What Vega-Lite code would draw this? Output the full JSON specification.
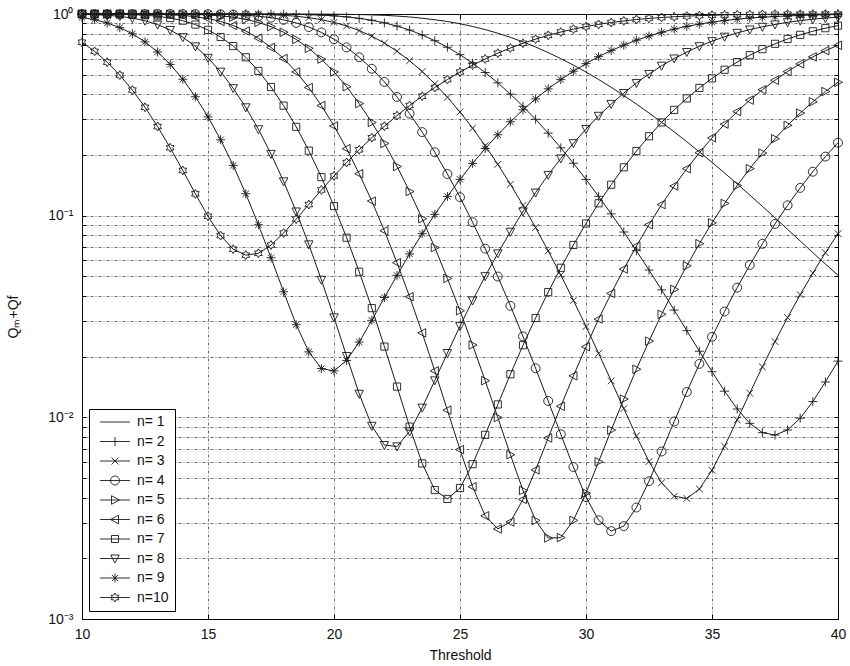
{
"$schema":"https://vega.github.io/schema/vega-lite/v6.json",
"width":756,"height":605,
"autosize":{"type":"none"},
"padding":{"left":82,"top":14,"right":12,"bottom":47},
"background":"white",
"config":{
 "view":{"stroke":"#000","strokeWidth":1},
 "axis":{"labelFont":"Liberation Sans","titleFont":"Liberation Sans","labelFontSize":14,"titleFontSize":14,"titleFontWeight":"normal","labelColor":"#111","titleColor":"#111","gridColor":"#222","gridDash":[3,2,1,2],"gridOpacity":0.9,"gridWidth":0.75,"tickColor":"#000","domain":false,"labelFlush":false,"labelOverlap":false}
},
"data":{"values":[
{"t":10,"n":1,"v":1},{"t":10.5,"n":1,"v":1},{"t":11,"n":1,"v":1},{"t":11.5,"n":1,"v":1},{"t":12,"n":1,"v":1},{"t":12.5,"n":1,"v":1},{"t":13,"n":1,"v":1},{"t":13.5,"n":1,"v":1},{"t":14,"n":1,"v":1},{"t":14.5,"n":1,"v":1},{"t":15,"n":1,"v":1},{"t":15.5,"n":1,"v":1},{"t":16,"n":1,"v":1},{"t":16.5,"n":1,"v":1},{"t":17,"n":1,"v":1},{"t":17.5,"n":1,"v":0.99994},{"t":18,"n":1,"v":0.99986},{"t":18.5,"n":1,"v":0.99969},{"t":19,"n":1,"v":0.99938},{"t":19.5,"n":1,"v":0.9988},{"t":20,"n":1,"v":0.99781},{"t":20.5,"n":1,"v":0.99616},{"t":21,"n":1,"v":0.99366},{"t":21.5,"n":1,"v":0.98986},{"t":22,"n":1,"v":0.9846},{"t":22.5,"n":1,"v":0.97664},{"t":23,"n":1,"v":0.967},{"t":23.5,"n":1,"v":0.95288},{"t":24,"n":1,"v":0.93633},{"t":24.5,"n":1,"v":0.91793},{"t":25,"n":1,"v":0.89452},{"t":25.5,"n":1,"v":0.86743},{"t":26,"n":1,"v":0.83684},{"t":26.5,"n":1,"v":0.80297},{"t":27,"n":1,"v":0.76622},{"t":27.5,"n":1,"v":0.72709},{"t":28,"n":1,"v":0.68607},{"t":28.5,"n":1,"v":0.64382},{"t":29,"n":1,"v":0.60088},{"t":29.5,"n":1,"v":0.55785},{"t":30,"n":1,"v":0.51525},{"t":30.5,"n":1,"v":0.47361},{"t":31,"n":1,"v":0.43317},{"t":31.5,"n":1,"v":0.39447},{"t":32,"n":1,"v":0.35767},{"t":32.5,"n":1,"v":0.32295},{"t":33,"n":1,"v":0.29052},{"t":33.5,"n":1,"v":0.26038},{"t":34,"n":1,"v":0.23256},{"t":34.5,"n":1,"v":0.20713},{"t":35,"n":1,"v":0.1838},{"t":35.5,"n":1,"v":0.16274},{"t":36,"n":1,"v":0.14365},{"t":36.5,"n":1,"v":0.12653},{"t":37,"n":1,"v":0.11123},{"t":37.5,"n":1,"v":0.097591},{"t":38,"n":1,"v":0.085524},{"t":38.5,"n":1,"v":0.074891},{"t":39,"n":1,"v":0.0656},{"t":39.5,"n":1,"v":0.057556},{"t":40,"n":1,"v":0.050681},
{"t":10,"n":2,"v":1},{"t":10.5,"n":2,"v":1},{"t":11,"n":2,"v":1},{"t":11.5,"n":2,"v":1},{"t":12,"n":2,"v":1},{"t":12.5,"n":2,"v":1},{"t":13,"n":2,"v":1},{"t":13.5,"n":2,"v":1},{"t":14,"n":2,"v":1},{"t":14.5,"n":2,"v":1},{"t":15,"n":2,"v":1},{"t":15.5,"n":2,"v":1},{"t":16,"n":2,"v":0.9999},{"t":16.5,"n":2,"v":0.9998},{"t":17,"n":2,"v":0.9995},{"t":17.5,"n":2,"v":0.9989},{"t":18,"n":2,"v":0.9978},{"t":18.5,"n":2,"v":0.9959},{"t":19,"n":2,"v":0.9927},{"t":19.5,"n":2,"v":0.9874},{"t":20,"n":2,"v":0.9791},{"t":20.5,"n":2,"v":0.9678},{"t":21,"n":2,"v":0.9516},{"t":21.5,"n":2,"v":0.9308},{"t":22,"n":2,"v":0.9043},{"t":22.5,"n":2,"v":0.871},{"t":23,"n":2,"v":0.8326},{"t":23.5,"n":2,"v":0.787},{"t":24,"n":2,"v":0.7373},{"t":24.5,"n":2,"v":0.6842},{"t":25,"n":2,"v":0.6286},{"t":25.5,"n":2,"v":0.5706},{"t":26,"n":2,"v":0.5125},{"t":26.5,"n":2,"v":0.4555},{"t":27,"n":2,"v":0.4005},{"t":27.5,"n":2,"v":0.3486},{"t":28,"n":2,"v":0.3005},{"t":28.5,"n":2,"v":0.2565},{"t":29,"n":2,"v":0.2169},{"t":29.5,"n":2,"v":0.1819},{"t":30,"n":2,"v":0.1512},{"t":30.5,"n":2,"v":0.1247},{"t":31,"n":2,"v":0.1021},{"t":31.5,"n":2,"v":0.08298},{"t":32,"n":2,"v":0.06698},{"t":32.5,"n":2,"v":0.05372},{"t":33,"n":2,"v":0.04286},{"t":33.5,"n":2,"v":0.03402},{"t":34,"n":2,"v":0.02691},{"t":34.5,"n":2,"v":0.02127},{"t":35,"n":2,"v":0.01684},{"t":35.5,"n":2,"v":0.01348},{"t":36,"n":2,"v":0.011},{"t":36.5,"n":2,"v":0.009334},{"t":37,"n":2,"v":0.008396},{"t":37.5,"n":2,"v":0.00817},{"t":38,"n":2,"v":0.008655},{"t":38.5,"n":2,"v":0.009899},{"t":39,"n":2,"v":0.01197},{"t":39.5,"n":2,"v":0.01498},{"t":40,"n":2,"v":0.019},
{"t":10,"n":3,"v":1},{"t":10.5,"n":3,"v":1},{"t":11,"n":3,"v":1},{"t":11.5,"n":3,"v":1},{"t":12,"n":3,"v":1},{"t":12.5,"n":3,"v":1},{"t":13,"n":3,"v":1},{"t":13.5,"n":3,"v":1},{"t":14,"n":3,"v":1},{"t":14.5,"n":3,"v":0.9999},{"t":15,"n":3,"v":0.9998},{"t":15.5,"n":3,"v":0.9996},{"t":16,"n":3,"v":0.999},{"t":16.5,"n":3,"v":0.9977},{"t":17,"n":3,"v":0.9955},{"t":17.5,"n":3,"v":0.9914},{"t":18,"n":3,"v":0.9848},{"t":18.5,"n":3,"v":0.9744},{"t":19,"n":3,"v":0.9592},{"t":19.5,"n":3,"v":0.9377},{"t":20,"n":3,"v":0.9088},{"t":20.5,"n":3,"v":0.8725},{"t":21,"n":3,"v":0.8278},{"t":21.5,"n":3,"v":0.776},{"t":22,"n":3,"v":0.7175},{"t":22.5,"n":3,"v":0.6535},{"t":23,"n":3,"v":0.5869},{"t":23.5,"n":3,"v":0.5181},{"t":24,"n":3,"v":0.4508},{"t":24.5,"n":3,"v":0.3865},{"t":25,"n":3,"v":0.3266},{"t":25.5,"n":3,"v":0.2714},{"t":26,"n":3,"v":0.2224},{"t":26.5,"n":3,"v":0.1796},{"t":27,"n":3,"v":0.1431},{"t":27.5,"n":3,"v":0.1125},{"t":28,"n":3,"v":0.0873},{"t":28.5,"n":3,"v":0.06693},{"t":29,"n":3,"v":0.05073},{"t":29.5,"n":3,"v":0.03803},{"t":30,"n":3,"v":0.02822},{"t":30.5,"n":3,"v":0.02076},{"t":31,"n":3,"v":0.01517},{"t":31.5,"n":3,"v":0.01105},{"t":32,"n":3,"v":0.008085},{"t":32.5,"n":3,"v":0.006039},{"t":33,"n":3,"v":0.00474},{"t":33.5,"n":3,"v":0.004063},{"t":34,"n":3,"v":0.003958},{"t":34.5,"n":3,"v":0.004411},{"t":35,"n":3,"v":0.005466},{"t":35.5,"n":3,"v":0.007198},{"t":36,"n":3,"v":0.009713},{"t":36.5,"n":3,"v":0.01319},{"t":37,"n":3,"v":0.01779},{"t":37.5,"n":3,"v":0.02375},{"t":38,"n":3,"v":0.03125},{"t":38.5,"n":3,"v":0.04056},{"t":39,"n":3,"v":0.0519},{"t":39.5,"n":3,"v":0.0655},{"t":40,"n":3,"v":0.08144},
{"t":10,"n":4,"v":1},{"t":10.5,"n":4,"v":1},{"t":11,"n":4,"v":1},{"t":11.5,"n":4,"v":1},{"t":12,"n":4,"v":1},{"t":12.5,"n":4,"v":1},{"t":13,"n":4,"v":1},{"t":13.5,"n":4,"v":0.9999},{"t":14,"n":4,"v":0.9997},{"t":14.5,"n":4,"v":0.9993},{"t":15,"n":4,"v":0.9983},{"t":15.5,"n":4,"v":0.9962},{"t":16,"n":4,"v":0.9925},{"t":16.5,"n":4,"v":0.9859},{"t":17,"n":4,"v":0.9752},{"t":17.5,"n":4,"v":0.9589},{"t":18,"n":4,"v":0.9353},{"t":18.5,"n":4,"v":0.9031},{"t":19,"n":4,"v":0.8617},{"t":19.5,"n":4,"v":0.8106},{"t":20,"n":4,"v":0.7503},{"t":20.5,"n":4,"v":0.6831},{"t":21,"n":4,"v":0.6103},{"t":21.5,"n":4,"v":0.5353},{"t":22,"n":4,"v":0.4604},{"t":22.5,"n":4,"v":0.388},{"t":23,"n":4,"v":0.3208},{"t":23.5,"n":4,"v":0.2597},{"t":24,"n":4,"v":0.2063},{"t":24.5,"n":4,"v":0.1609},{"t":25,"n":4,"v":0.1234},{"t":25.5,"n":4,"v":0.09281},{"t":26,"n":4,"v":0.06862},{"t":26.5,"n":4,"v":0.0499},{"t":27,"n":4,"v":0.03572},{"t":27.5,"n":4,"v":0.02519},{"t":28,"n":4,"v":0.01752},{"t":28.5,"n":4,"v":0.01205},{"t":29,"n":4,"v":0.008243},{"t":29.5,"n":4,"v":0.00567},{"t":30,"n":4,"v":0.004023},{"t":30.5,"n":4,"v":0.003089},{"t":31,"n":4,"v":0.002728},{"t":31.5,"n":4,"v":0.002888},{"t":32,"n":4,"v":0.003571},{"t":32.5,"n":4,"v":0.004823},{"t":33,"n":4,"v":0.006771},{"t":33.5,"n":4,"v":0.009536},{"t":34,"n":4,"v":0.01335},{"t":34.5,"n":4,"v":0.01841},{"t":35,"n":4,"v":0.02505},{"t":35.5,"n":4,"v":0.03349},{"t":36,"n":4,"v":0.04399},{"t":36.5,"n":4,"v":0.05696},{"t":37,"n":4,"v":0.07252},{"t":37.5,"n":4,"v":0.09096},{"t":38,"n":4,"v":0.1126},{"t":38.5,"n":4,"v":0.1373},{"t":39,"n":4,"v":0.1652},{"t":39.5,"n":4,"v":0.1963},{"t":40,"n":4,"v":0.2301},
{"t":10,"n":5,"v":1},{"t":10.5,"n":5,"v":1},{"t":11,"n":5,"v":1},{"t":11.5,"n":5,"v":1},{"t":12,"n":5,"v":1},{"t":12.5,"n":5,"v":0.9998},{"t":13,"n":5,"v":0.9995},{"t":13.5,"n":5,"v":0.9988},{"t":14,"n":5,"v":0.9974},{"t":14.5,"n":5,"v":0.9942},{"t":15,"n":5,"v":0.9887},{"t":15.5,"n":5,"v":0.9792},{"t":16,"n":5,"v":0.964},{"t":16.5,"n":5,"v":0.941},{"t":17,"n":5,"v":0.9086},{"t":17.5,"n":5,"v":0.8656},{"t":18,"n":5,"v":0.8121},{"t":18.5,"n":5,"v":0.748},{"t":19,"n":5,"v":0.6756},{"t":19.5,"n":5,"v":0.5972},{"t":20,"n":5,"v":0.5161},{"t":20.5,"n":5,"v":0.436},{"t":21,"n":5,"v":0.3596},{"t":21.5,"n":5,"v":0.2898},{"t":22,"n":5,"v":0.2281},{"t":22.5,"n":5,"v":0.1753},{"t":23,"n":5,"v":0.1317},{"t":23.5,"n":5,"v":0.09666},{"t":24,"n":5,"v":0.06945},{"t":24.5,"n":5,"v":0.04886},{"t":25,"n":5,"v":0.03377},{"t":25.5,"n":5,"v":0.02285},{"t":26,"n":5,"v":0.0152},{"t":26.5,"n":5,"v":0.009978},{"t":27,"n":5,"v":0.006523},{"t":27.5,"n":5,"v":0.004342},{"t":28,"n":5,"v":0.003081},{"t":28.5,"n":5,"v":0.00252},{"t":29,"n":5,"v":0.002533},{"t":29.5,"n":5,"v":0.003084},{"t":30,"n":5,"v":0.004212},{"t":30.5,"n":5,"v":0.006024},{"t":31,"n":5,"v":0.008645},{"t":31.5,"n":5,"v":0.01232},{"t":32,"n":5,"v":0.01732},{"t":32.5,"n":5,"v":0.02388},{"t":33,"n":5,"v":0.03241},{"t":33.5,"n":5,"v":0.04311},{"t":34,"n":5,"v":0.05644},{"t":34.5,"n":5,"v":0.07263},{"t":35,"n":5,"v":0.0921},{"t":35.5,"n":5,"v":0.115},{"t":36,"n":5,"v":0.1412},{"t":36.5,"n":5,"v":0.1711},{"t":37,"n":5,"v":0.2043},{"t":37.5,"n":5,"v":0.2408},{"t":38,"n":5,"v":0.2805},{"t":38.5,"n":5,"v":0.3226},{"t":39,"n":5,"v":0.3669},{"t":39.5,"n":5,"v":0.4126},{"t":40,"n":5,"v":0.4586},
{"t":10,"n":6,"v":1},{"t":10.5,"n":6,"v":1},{"t":11,"n":6,"v":0.9999},{"t":11.5,"n":6,"v":0.9997},{"t":12,"n":6,"v":0.9993},{"t":12.5,"n":6,"v":0.9982},{"t":13,"n":6,"v":0.9959},{"t":13.5,"n":6,"v":0.9914},{"t":14,"n":6,"v":0.9835},{"t":14.5,"n":6,"v":0.9699},{"t":15,"n":6,"v":0.949},{"t":15.5,"n":6,"v":0.9185},{"t":16,"n":6,"v":0.8769},{"t":16.5,"n":6,"v":0.8233},{"t":17,"n":6,"v":0.758},{"t":17.5,"n":6,"v":0.683},{"t":18,"n":6,"v":0.6014},{"t":18.5,"n":6,"v":0.5162},{"t":19,"n":6,"v":0.4318},{"t":19.5,"n":6,"v":0.3516},{"t":20,"n":6,"v":0.2786},{"t":20.5,"n":6,"v":0.215},{"t":21,"n":6,"v":0.1614},{"t":21.5,"n":6,"v":0.1181},{"t":22,"n":6,"v":0.08418},{"t":22.5,"n":6,"v":0.05845},{"t":23,"n":6,"v":0.03964},{"t":23.5,"n":6,"v":0.02622},{"t":24,"n":6,"v":0.017},{"t":24.5,"n":6,"v":0.01085},{"t":25,"n":6,"v":0.006921},{"t":25.5,"n":6,"v":0.004529},{"t":26,"n":6,"v":0.003249},{"t":26.5,"n":6,"v":0.002796},{"t":27,"n":6,"v":0.003029},{"t":27.5,"n":6,"v":0.003916},{"t":28,"n":6,"v":0.005487},{"t":28.5,"n":6,"v":0.0079},{"t":29,"n":6,"v":0.01134},{"t":29.5,"n":6,"v":0.01606},{"t":30,"n":6,"v":0.02239},{"t":30.5,"n":6,"v":0.03069},{"t":31,"n":6,"v":0.04118},{"t":31.5,"n":6,"v":0.05437},{"t":32,"n":6,"v":0.0707},{"t":32.5,"n":6,"v":0.0902},{"t":33,"n":6,"v":0.1135},{"t":33.5,"n":6,"v":0.1403},{"t":34,"n":6,"v":0.1709},{"t":34.5,"n":6,"v":0.2052},{"t":35,"n":6,"v":0.2431},{"t":35.5,"n":6,"v":0.2844},{"t":36,"n":6,"v":0.328},{"t":36.5,"n":6,"v":0.3742},{"t":37,"n":6,"v":0.4212},{"t":37.5,"n":6,"v":0.4693},{"t":38,"n":6,"v":0.5182},{"t":38.5,"n":6,"v":0.566},{"t":39,"n":6,"v":0.6128},{"t":39.5,"n":6,"v":0.6577},{"t":40,"n":6,"v":0.6993},
{"t":10,"n":7,"v":0.9998},{"t":10.5,"n":7,"v":0.9995},{"t":11,"n":7,"v":0.9986},{"t":11.5,"n":7,"v":0.9968},{"t":12,"n":7,"v":0.9931},{"t":12.5,"n":7,"v":0.9862},{"t":13,"n":7,"v":0.9742},{"t":13.5,"n":7,"v":0.9551},{"t":14,"n":7,"v":0.9266},{"t":14.5,"n":7,"v":0.8865},{"t":15,"n":7,"v":0.834},{"t":15.5,"n":7,"v":0.7691},{"t":16,"n":7,"v":0.6935},{"t":16.5,"n":7,"v":0.6098},{"t":17,"n":7,"v":0.522},{"t":17.5,"n":7,"v":0.4344},{"t":18,"n":7,"v":0.3513},{"t":18.5,"n":7,"v":0.2757},{"t":19,"n":7,"v":0.2101},{"t":19.5,"n":7,"v":0.1553},{"t":20,"n":7,"v":0.1115},{"t":20.5,"n":7,"v":0.07775},{"t":21,"n":7,"v":0.05271},{"t":21.5,"n":7,"v":0.03479},{"t":22,"n":7,"v":0.02243},{"t":22.5,"n":7,"v":0.0142},{"t":23,"n":7,"v":0.008992},{"t":23.5,"n":7,"v":0.005908},{"t":24,"n":7,"v":0.00436},{"t":24.5,"n":7,"v":0.003938},{"t":25,"n":7,"v":0.004462},{"t":25.5,"n":7,"v":0.005858},{"t":26,"n":7,"v":0.008188},{"t":26.5,"n":7,"v":0.01159},{"t":27,"n":7,"v":0.01636},{"t":27.5,"n":7,"v":0.02278},{"t":28,"n":7,"v":0.03108},{"t":28.5,"n":7,"v":0.04177},{"t":29,"n":7,"v":0.05515},{"t":29.5,"n":7,"v":0.07158},{"t":30,"n":7,"v":0.09148},{"t":30.5,"n":7,"v":0.1152},{"t":31,"n":7,"v":0.1424},{"t":31.5,"n":7,"v":0.1737},{"t":32,"n":7,"v":0.2091},{"t":32.5,"n":7,"v":0.2476},{"t":33,"n":7,"v":0.29},{"t":33.5,"n":7,"v":0.3346},{"t":34,"n":7,"v":0.3815},{"t":34.5,"n":7,"v":0.43},{"t":35,"n":7,"v":0.4795},{"t":35.5,"n":7,"v":0.5291},{"t":36,"n":7,"v":0.5775},{"t":36.5,"n":7,"v":0.6249},{"t":37,"n":7,"v":0.6692},{"t":37.5,"n":7,"v":0.7115},{"t":38,"n":7,"v":0.7519},{"t":38.5,"n":7,"v":0.788},{"t":39,"n":7,"v":0.8212},{"t":39.5,"n":7,"v":0.8506},{"t":40,"n":7,"v":0.8754},
{"t":10,"n":8,"v":0.9968},{"t":10.5,"n":8,"v":0.993},{"t":11,"n":8,"v":0.986},{"t":11.5,"n":8,"v":0.9739},{"t":12,"n":8,"v":0.9547},{"t":12.5,"n":8,"v":0.926},{"t":13,"n":8,"v":0.8857},{"t":13.5,"n":8,"v":0.8328},{"t":14,"n":8,"v":0.7673},{"t":14.5,"n":8,"v":0.6906},{"t":15,"n":8,"v":0.6059},{"t":15.5,"n":8,"v":0.517},{"t":16,"n":8,"v":0.4284},{"t":16.5,"n":8,"v":0.3443},{"t":17,"n":8,"v":0.2681},{"t":17.5,"n":8,"v":0.2023},{"t":18,"n":8,"v":0.1479},{"t":18.5,"n":8,"v":0.1048},{"t":19,"n":8,"v":0.07199},{"t":19.5,"n":8,"v":0.04806},{"t":20,"n":8,"v":0.0313},{"t":20.5,"n":8,"v":0.02012},{"t":21,"n":8,"v":0.01308},{"t":21.5,"n":8,"v":0.00907},{"t":22,"n":8,"v":0.007285},{"t":22.5,"n":8,"v":0.007173},{"t":23,"n":8,"v":0.008511},{"t":23.5,"n":8,"v":0.01116},{"t":24,"n":8,"v":0.01524},{"t":24.5,"n":8,"v":0.02082},{"t":25,"n":8,"v":0.02832},{"t":25.5,"n":8,"v":0.03796},{"t":26,"n":8,"v":0.05008},{"t":26.5,"n":8,"v":0.06496},{"t":27,"n":8,"v":0.08315},{"t":27.5,"n":8,"v":0.1049},{"t":28,"n":8,"v":0.1301},{"t":28.5,"n":8,"v":0.1592},{"t":29,"n":8,"v":0.1921},{"t":29.5,"n":8,"v":0.2287},{"t":30,"n":8,"v":0.2688},{"t":30.5,"n":8,"v":0.3125},{"t":31,"n":8,"v":0.3579},{"t":31.5,"n":8,"v":0.4053},{"t":32,"n":8,"v":0.4548},{"t":32.5,"n":8,"v":0.5039},{"t":33,"n":8,"v":0.5535},{"t":33.5,"n":8,"v":0.6013},{"t":34,"n":8,"v":0.6475},{"t":34.5,"n":8,"v":0.6916},{"t":35,"n":8,"v":0.733},{"t":35.5,"n":8,"v":0.7714},{"t":36,"n":8,"v":0.8058},{"t":36.5,"n":8,"v":0.8373},{"t":37,"n":8,"v":0.8637},{"t":37.5,"n":8,"v":0.8874},{"t":38,"n":8,"v":0.9093},{"t":38.5,"n":8,"v":0.9268},{"t":39,"n":8,"v":0.9422},{"t":39.5,"n":8,"v":0.9547},{"t":40,"n":8,"v":0.9638},
{"t":10,"n":9,"v":0.9616},{"t":10.5,"n":9,"v":0.937},{"t":11,"n":9,"v":0.9023},{"t":11.5,"n":9,"v":0.856},{"t":12,"n":9,"v":0.7976},{"t":12.5,"n":9,"v":0.7276},{"t":13,"n":9,"v":0.648},{"t":13.5,"n":9,"v":0.5625},{"t":14,"n":9,"v":0.4748},{"t":14.5,"n":9,"v":0.3889},{"t":15,"n":9,"v":0.309},{"t":15.5,"n":9,"v":0.2379},{"t":16,"n":9,"v":0.1775},{"t":16.5,"n":9,"v":0.1284},{"t":17,"n":9,"v":0.09017},{"t":17.5,"n":9,"v":0.06186},{"t":18,"n":9,"v":0.04195},{"t":18.5,"n":9,"v":0.0288},{"t":19,"n":9,"v":0.02112},{"t":19.5,"n":9,"v":0.01745},{"t":20,"n":9,"v":0.01699},{"t":20.5,"n":9,"v":0.01915},{"t":21,"n":9,"v":0.02362},{"t":21.5,"n":9,"v":0.03028},{"t":22,"n":9,"v":0.03927},{"t":22.5,"n":9,"v":0.05053},{"t":23,"n":9,"v":0.06461},{"t":23.5,"n":9,"v":0.08146},{"t":24,"n":9,"v":0.1015},{"t":24.5,"n":9,"v":0.1246},{"t":25,"n":9,"v":0.1514},{"t":25.5,"n":9,"v":0.1816},{"t":26,"n":9,"v":0.2152},{"t":26.5,"n":9,"v":0.2519},{"t":27,"n":9,"v":0.292},{"t":27.5,"n":9,"v":0.3347},{"t":28,"n":9,"v":0.3792},{"t":28.5,"n":9,"v":0.4256},{"t":29,"n":9,"v":0.4728},{"t":29.5,"n":9,"v":0.5202},{"t":30,"n":9,"v":0.5676},{"t":30.5,"n":9,"v":0.6146},{"t":31,"n":9,"v":0.6587},{"t":31.5,"n":9,"v":0.7007},{"t":32,"n":9,"v":0.7413},{"t":32.5,"n":9,"v":0.7775},{"t":33,"n":9,"v":0.8118},{"t":33.5,"n":9,"v":0.8414},{"t":34,"n":9,"v":0.8678},{"t":34.5,"n":9,"v":0.8913},{"t":35,"n":9,"v":0.9114},{"t":35.5,"n":9,"v":0.9288},{"t":36,"n":9,"v":0.943},{"t":36.5,"n":9,"v":0.9553},{"t":37,"n":9,"v":0.9637},{"t":37.5,"n":9,"v":0.9713},{"t":38,"n":9,"v":0.9789},{"t":38.5,"n":9,"v":0.9838},{"t":39,"n":9,"v":0.9883},{"t":39.5,"n":9,"v":0.9916},{"t":40,"n":9,"v":0.9929},
{"t":10,"n":10,"v":0.7243},{"t":10.5,"n":10,"v":0.6532},{"t":11,"n":10,"v":0.5768},{"t":11.5,"n":10,"v":0.4978},{"t":12,"n":10,"v":0.4194},{"t":12.5,"n":10,"v":0.3448},{"t":13,"n":10,"v":0.2765},{"t":13.5,"n":10,"v":0.2171},{"t":14,"n":10,"v":0.1676},{"t":14.5,"n":10,"v":0.1283},{"t":15,"n":10,"v":0.09934},{"t":15.5,"n":10,"v":0.07966},{"t":16,"n":10,"v":0.06819},{"t":16.5,"n":10,"v":0.06372},{"t":17,"n":10,"v":0.06508},{"t":17.5,"n":10,"v":0.07147},{"t":18,"n":10,"v":0.08198},{"t":18.5,"n":10,"v":0.09617},{"t":19,"n":10,"v":0.1136},{"t":19.5,"n":10,"v":0.1341},{"t":20,"n":10,"v":0.1574},{"t":20.5,"n":10,"v":0.1835},{"t":21,"n":10,"v":0.2123},{"t":21.5,"n":10,"v":0.2436},{"t":22,"n":10,"v":0.2777},{"t":22.5,"n":10,"v":0.3134},{"t":23,"n":10,"v":0.3516},{"t":23.5,"n":10,"v":0.3911},{"t":24,"n":10,"v":0.432},{"t":24.5,"n":10,"v":0.4733},{"t":25,"n":10,"v":0.5155},{"t":25.5,"n":10,"v":0.5575},{"t":26,"n":10,"v":0.5988},{"t":26.5,"n":10,"v":0.6391},{"t":27,"n":10,"v":0.6781},{"t":27.5,"n":10,"v":0.7157},{"t":28,"n":10,"v":0.7507},{"t":28.5,"n":10,"v":0.7835},{"t":29,"n":10,"v":0.8138},{"t":29.5,"n":10,"v":0.8414},{"t":30,"n":10,"v":0.8661},{"t":30.5,"n":10,"v":0.888},{"t":31,"n":10,"v":0.9073},{"t":31.5,"n":10,"v":0.9242},{"t":32,"n":10,"v":0.9385},{"t":32.5,"n":10,"v":0.9507},{"t":33,"n":10,"v":0.9608},{"t":33.5,"n":10,"v":0.9692},{"t":34,"n":10,"v":0.9761},{"t":34.5,"n":10,"v":0.9816},{"t":35,"n":10,"v":0.986},{"t":35.5,"n":10,"v":0.9895},{"t":36,"n":10,"v":0.9922},{"t":36.5,"n":10,"v":0.9942},{"t":37,"n":10,"v":0.9958},{"t":37.5,"n":10,"v":0.997},{"t":38,"n":10,"v":0.9979},{"t":38.5,"n":10,"v":0.9985},{"t":39,"n":10,"v":0.9989},{"t":39.5,"n":10,"v":0.9993},{"t":40,"n":10,"v":0.9995}
]},
"layer":[
 {"mark":{"type":"line","stroke":"#1a1a1a","strokeWidth":1},
  "encoding":{
   "x":{"field":"t","type":"quantitative","scale":{"domain":[10,40],"nice":false,"zero":false},
        "axis":{"orient":"bottom","values":[10,15,20,25,30,35,40],"title":"Threshold","grid":true,"ticks":true,"tickSize":-5,"labelPadding":13,"titlePadding":7}},
   "y":{"field":"v","type":"quantitative","scale":{"type":"log","domain":[0.001,1],"nice":false},
        "axis":{"orient":"left","values":[0.001,0.002,0.003,0.004,0.005,0.006,0.007,0.008,0.009,0.01,0.02,0.03,0.04,0.05,0.06,0.07,0.08,0.09,0.1,0.2,0.3,0.4,0.5,0.6,0.7,0.8,0.9,1],
        "labelExpr":"datum.value == 1 ? '10⁰' : datum.value == 0.1 ? '10⁻¹' : datum.value == 0.01 ? '10⁻²' : datum.value == 0.001 ? '10⁻³' : ''",
        "title":"Qₘ+Qf","grid":true,"ticks":true,"tickSize":-4,"labelPadding":13,"titlePadding":27}},
   "detail":{"field":"n","type":"nominal"}
  }},
 {"transform":[{"filter":"datum.n > 1"}],
  "mark":{"type":"point","filled":false,"stroke":"#1a1a1a","strokeWidth":0.9,"size":80,"opacity":1},
  "encoding":{
   "x":{"field":"t","type":"quantitative","scale":{"domain":[10,40],"nice":false,"zero":false},
        "axis":{"orient":"top","values":[10,15,20,25,30,35,40],"labels":false,"grid":false,"ticks":true,"tickSize":-5,"title":null}},
   "y":{"field":"v","type":"quantitative","scale":{"type":"log","domain":[0.001,1],"nice":false},
        "axis":{"orient":"right","values":[0.001,0.002,0.003,0.004,0.005,0.006,0.007,0.008,0.009,0.01,0.02,0.03,0.04,0.05,0.06,0.07,0.08,0.09,0.1,0.2,0.3,0.4,0.5,0.6,0.7,0.8,0.9,1],"labels":false,"grid":false,"ticks":true,"tickSize":-4,"title":null}},
   "shape":{"field":"n","type":"nominal",
     "scale":{"domain":[2,3,4,5,6,7,8,9,10],
       "range":["M-1,0H1M0,-1V1",
                "M-0.75,-0.75L0.75,0.75M-0.75,0.75L0.75,-0.75",
                "M1,0A1,1,0,1,1,-1,0A1,1,0,1,1,1,0Z",
                "M-0.8,-0.95L1,0L-0.8,0.95Z",
                "M0.8,-0.95L-1,0L0.8,0.95Z",
                "M-0.8,-0.8H0.8V0.8H-0.8Z",
                "M-0.95,-0.8H0.95L0,1Z",
                "M-1,0H1M0,-1V1M-0.7,-0.7L0.7,0.7M-0.7,0.7L0.7,-0.7",
                "M0,-1L0.289,-0.5L0.866,-0.5L0.577,0L0.866,0.5L0.289,0.5L0,1L-0.289,0.5L-0.866,0.5L-0.577,0L-0.866,-0.5L-0.289,-0.5Z"]},
     "legend":null}
  }},
 {"transform":[{"filter":"datum.t == 10"}],
  "mark":{"type":"point","filled":false,"stroke":"#1a1a1a","strokeWidth":0.9,"size":100,"opacity":0},
  "encoding":{
   "x":{"field":"t","type":"quantitative","scale":{"domain":[10,40],"nice":false,"zero":false},"axis":null},
   "y":{"field":"v","type":"quantitative","scale":{"type":"log","domain":[0.001,1],"nice":false},"axis":null},
   "shape":{"field":"n","type":"nominal",
     "scale":{"domain":[1,2,3,4,5,6,7,8,9,10],
       "range":["M-3,0H3",
                "M-3,0H3M0,-0.9V0.9",
                "M-3,0H3M-0.7,-0.7L0.7,0.7M-0.7,0.7L0.7,-0.7",
                "M-3,0H3M0.9,0A0.9,0.9,0,1,1,-0.9,0A0.9,0.9,0,1,1,0.9,0Z",
                "M-3,0H3M-0.7,-0.85L0.9,0L-0.7,0.85Z",
                "M-3,0H3M0.7,-0.85L-0.9,0L0.7,0.85Z",
                "M-3,0H3M-0.7,-0.7H0.7V0.7H-0.7Z",
                "M-3,0H3M-0.85,-0.7H0.85L0,0.9Z",
                "M-3,0H3M0,-0.9V0.9M-0.63,-0.63L0.63,0.63M-0.63,0.63L0.63,-0.63",
                "M-3,0H3M0,-0.9L0.26,-0.45L0.78,-0.45L0.52,0L0.78,0.45L0.26,0.45L0,0.9L-0.26,0.45L-0.78,0.45L-0.52,0L-0.78,-0.45L-0.26,-0.45Z"]},
     "legend":{"title":null,"orient":"none","legendX":7,"legendY":395,"padding":6,"strokeColor":"#000","fillColor":"#fff","cornerRadius":0,
       "symbolSize":100,"symbolStrokeWidth":0.9,"symbolStrokeColor":"#1a1a1a","symbolOpacity":1,"symbolOffset":13,"labelOffset":15,"rowPadding":5.5,
       "labelFont":"Liberation Sans","labelFontSize":14,"labelColor":"#111",
       "labelExpr":"datum.value == 10 ? 'n=10  ' : 'n= ' + datum.value + '  '"}}
  }}
],
"resolve":{"scale":{"shape":"independent"},"legend":{"shape":"independent"},"axis":{"x":"independent","y":"independent"}}
}
